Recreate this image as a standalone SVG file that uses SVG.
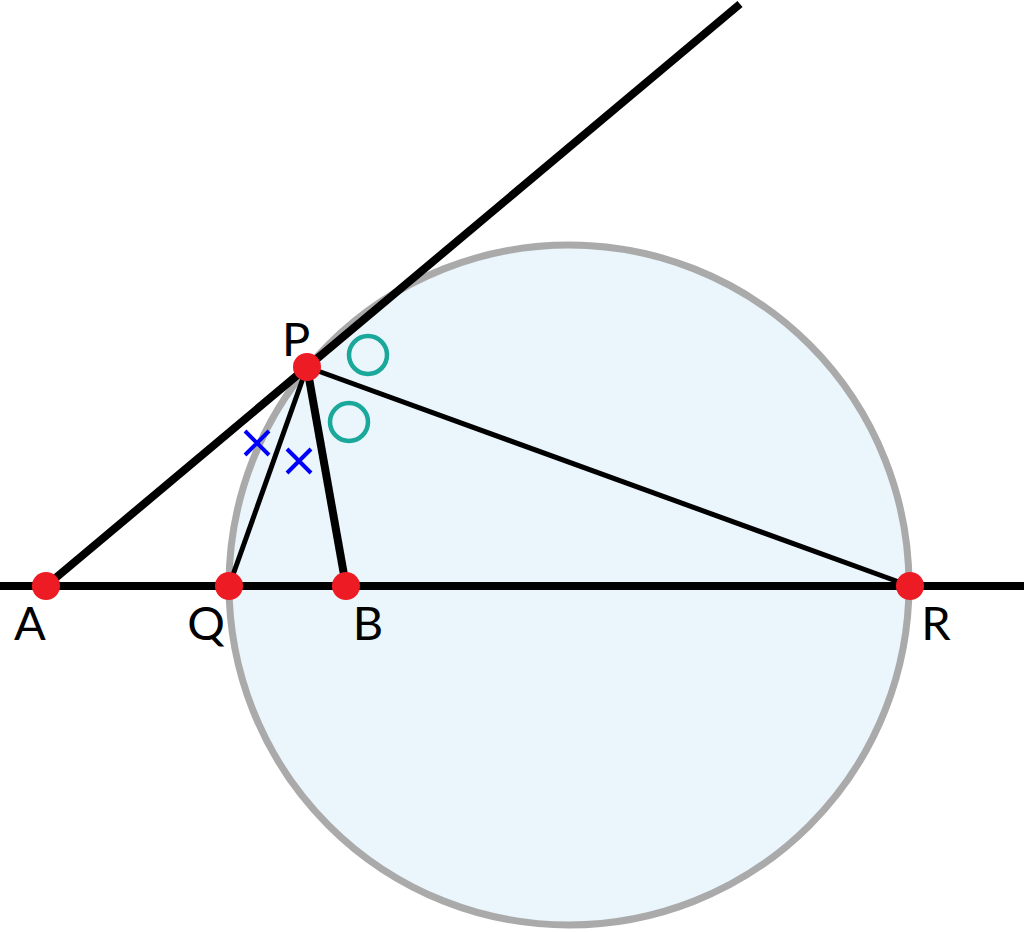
<svg xmlns="http://www.w3.org/2000/svg" width="1024" height="932" viewBox="0 0 1024 932">
<style>
.pt{fill:#ed1c24}
.lbl{font-family:"Lato","Liberation Sans",sans-serif;font-size:47px;fill:#000}
.ln{stroke:#000;stroke-linecap:butt;fill:none}
.ang{fill:none;stroke:#1aa89a;stroke-width:4.5}
.crs{stroke:#0000ff;stroke-width:4;fill:none}
</style>
<rect width="1024" height="932" fill="#fff"/>
<circle id="circle" cx="569" cy="585" r="340" fill="#eaf5fc" stroke="#aaaaaa" stroke-width="7"/>
<g id="connectors">
<line class="ln" x1="0" y1="586" x2="1024" y2="586" stroke-width="8"/>
<line class="ln" x1="46" y1="586" x2="740" y2="4" stroke-width="8"/>
<line class="ln" x1="307" y1="367" x2="229" y2="586" stroke-width="5"/>
<line class="ln" x1="307" y1="367" x2="346" y2="586" stroke-width="8"/>
<line class="ln" x1="307" y1="367" x2="910" y2="586" stroke-width="5"/>
</g>
<g id="marks">
<circle class="ang" cx="368" cy="355" r="19"/>
<circle class="ang" cx="349" cy="422" r="19"/>
<path class="crs" d="M245 431L269 455M269 431L245 455"/>
<path class="crs" d="M287 449L311 473M311 449L287 473"/>
</g>
<g id="P"><circle class="pt" cx="307" cy="367" r="14"/><text class="lbl" x="296" y="356" text-anchor="middle">P</text></g>
<g id="A"><circle class="pt" cx="46" cy="586" r="14"/><text class="lbl" x="30" y="640" text-anchor="middle">A</text></g>
<g id="Q"><circle class="pt" cx="229" cy="586" r="14"/><text class="lbl" x="206" y="640" text-anchor="middle">Q</text></g>
<g id="B"><circle class="pt" cx="346" cy="586" r="14"/><text class="lbl" x="368" y="640" text-anchor="middle">B</text></g>
<g id="R"><circle class="pt" cx="910" cy="586" r="14"/><text class="lbl" x="936" y="640" text-anchor="middle">R</text></g>
</svg>
